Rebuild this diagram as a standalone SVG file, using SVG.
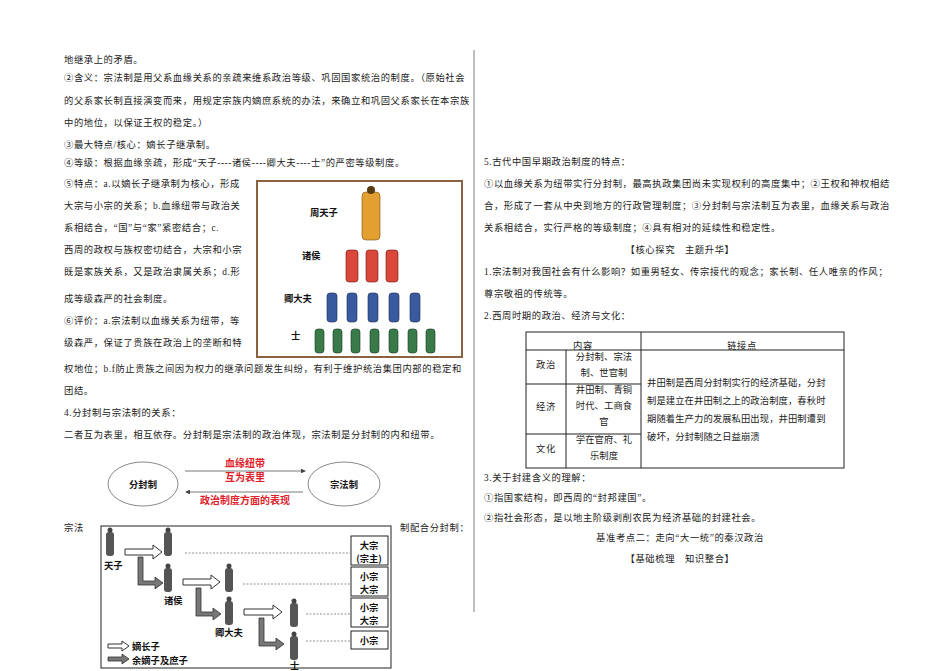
<svg xmlns="http://www.w3.org/2000/svg" width="950" height="671" viewBox="0 0 950 671">
<style>
text{font-family:"Liberation Serif","Noto Sans CJK SC",serif;font-size:9.3px;fill:#222;letter-spacing:0.6px}
.b{font-family:"Noto Sans CJK SC",sans-serif;font-weight:bold;fill:#111;letter-spacing:0}
.r{fill:#e0202a;font-family:"Noto Sans CJK SC",sans-serif;font-weight:bold;font-size:10px;letter-spacing:0}
.t{letter-spacing:0.1px}
.dot{stroke:#777;stroke-width:0.8;stroke-dasharray:2 1.5}
.wa{fill:#fff;stroke:#333;stroke-width:1}
.ga{fill:#777;stroke:#333;stroke-width:0.8}
.bx{fill:#fff;stroke:#222;stroke-width:1}
</style>
<defs>
<marker id="ah" markerWidth="6" markerHeight="6" refX="5" refY="3" orient="auto"><path d="M0,0 L6,3 L0,6 z" fill="#444"/></marker>
<g id="fig"><rect x="-4" y="0" width="8" height="24" rx="3" fill="#555"/><circle cx="0" cy="-2" r="2.5" fill="#444"/></g>
</defs>
<rect width="950" height="671" fill="#fff"/>
<line x1="474" y1="50" x2="474" y2="612" stroke="#aaa" stroke-width="1.5"/>
<g id="left-text">
<text x="64" y="63">地继承上的矛盾。</text>
<text x="64" y="81">②含义：宗法制是用父系血缘关系的亲疏来维系政治等级、巩固国家统治的制度。（原始社会</text>
<text x="64" y="104">的父系家长制直接演变而来，用规定宗族内嫡庶系统的办法，来确立和巩固父系家长在本宗族</text>
<text x="64" y="126">中的地位，以保证王权的稳定。）</text>
<text x="64" y="148">③最大特点/核心：嫡长子继承制。</text>
<text x="64" y="166">④等级：根据血缘亲疏，形成“天子----诸侯----卿大夫----士”的严密等级制度。</text>
<text x="64" y="187">⑤特点：a.以嫡长子继承制为核心，形成</text>
<text x="64" y="209">大宗与小宗的关系；b.血缘纽带与政治关</text>
<text x="64" y="231">系相结合，“国”与“家”紧密结合；c.</text>
<text x="64" y="253">西周的政权与族权密切结合，大宗和小宗</text>
<text x="64" y="275">既是家族关系，又是政治隶属关系；d.形</text>
<text x="64" y="302">成等级森严的社会制度。</text>
<text x="64" y="324">⑥评价：a.宗法制以血缘关系为纽带，等</text>
<text x="64" y="346">级森严，保证了贵族在政治上的垄断和特</text>
<text x="64" y="372">权地位；b.f防止贵族之间因为权力的继承问题发生纠纷，有利于维护统治集团内部的稳定和</text>
<text x="64" y="394">团结。</text>
<text x="64" y="416">4.分封制与宗法制的关系：</text>
<text x="64" y="438">二者互为表里，相互依存。分封制是宗法制的政治体现，宗法制是分封制的内和纽带。</text>
<text x="64" y="531">宗法</text>
<text x="400" y="531">制配合分封制：</text>
</g>
<g id="pyramid">
<rect x="257" y="181" width="205" height="176" fill="#fff" stroke="#8a6240" stroke-width="2"/>
<text class="b" x="310" y="216" font-size="11">周天子</text>
<text class="b" x="302" y="259" font-size="11">诸侯</text>
<text class="b" x="284" y="302" font-size="11">卿大夫</text>
<text class="b" x="291" y="339" font-size="11">士</text>
<rect x="362" y="192" width="18" height="48" rx="4" fill="#e3a030" stroke="#7a5010" stroke-width="0.6"/><circle cx="371" cy="190" r="4" fill="#5a3a10"/>
<g fill="#d9483a" stroke="#6a1a10" stroke-width="0.6">
<rect x="346" y="250" width="12" height="32" rx="3"/><rect x="366" y="250" width="12" height="32" rx="3"/><rect x="386" y="250" width="12" height="32" rx="3"/></g>
<g fill="#3a5aa0" stroke="#1a2a50" stroke-width="0.6">
<rect x="327" y="293" width="10" height="29" rx="3"/><rect x="347" y="293" width="10" height="29" rx="3"/><rect x="368" y="293" width="10" height="29" rx="3"/><rect x="389" y="293" width="10" height="29" rx="3"/><rect x="410" y="293" width="10" height="29" rx="3"/></g>
<g fill="#3a7a48" stroke="#1a3a20" stroke-width="0.6">
<rect x="315" y="329" width="9" height="24" rx="3"/><rect x="333" y="329" width="9" height="24" rx="3"/><rect x="351" y="329" width="9" height="24" rx="3"/><rect x="370" y="329" width="9" height="24" rx="3"/><rect x="389" y="329" width="9" height="24" rx="3"/><rect x="408" y="329" width="9" height="24" rx="3"/><rect x="426" y="329" width="9" height="24" rx="3"/></g>
</g>
<g id="relation">
<ellipse cx="143" cy="484" rx="35" ry="22" fill="#fff" stroke="#888"/>
<ellipse cx="344" cy="484" rx="36" ry="22" fill="#fff" stroke="#888"/>
<text class="b" x="143" y="488" text-anchor="middle" font-size="11.5">分封制</text>
<text class="b" x="344" y="488" text-anchor="middle" font-size="11.5">宗法制</text>
<line x1="185" y1="471" x2="305" y2="471" stroke="#555" stroke-width="0.8" marker-end="url(#ah)"/>
<line x1="303" y1="492" x2="186" y2="492" stroke="#555" stroke-width="0.8" marker-end="url(#ah)"/>
<text class="r" x="245" y="467" text-anchor="middle">血缘纽带</text>
<text class="r" x="245" y="481" text-anchor="middle">互为表里</text>
<text class="r" x="245" y="504" text-anchor="middle">政治制度方面的表现</text>
</g>
<g id="lineage">
<rect x="101" y="526" width="290" height="142" fill="#fff" stroke="#222" stroke-width="1"/>
<use href="#fig" x="110" y="532"/><use href="#fig" x="168" y="532"/>
<use href="#fig" x="168" y="568"/><use href="#fig" x="229" y="568"/>
<use href="#fig" x="229" y="601"/><use href="#fig" x="294" y="603"/>
<use href="#fig" x="294" y="636"/>
<text class="b" x="104" y="569" font-size="11">天子</text>
<text class="b" x="164" y="604" font-size="11">诸侯</text>
<text class="b" x="215" y="636" font-size="11">卿大夫</text>
<text class="b" x="290" y="669" font-size="11">士</text>
<path class="wa" d="M125,549 h28 v-4 l9,7 l-9,7 v-4 h-28 z"/>
<path class="wa" d="M183,579 h28 v-4 l9,7 l-9,7 v-4 h-28 z"/>
<path class="wa" d="M244,609 h29 v-4 l9,7 l-9,7 v-4 h-29 z"/>
<path class="ga" d="M138,557 h5 v24 h12 v-4 l8,6 l-8,6 v-4 h-17 z"/>
<path class="ga" d="M196,588 h5 v24 h12 v-4 l8,6 l-8,6 v-4 h-17 z"/>
<path class="ga" d="M259,618 h5 v24 h12 v-4 l8,6 l-8,6 v-4 h-17 z"/>
<line class="dot" x1="185" y1="553" x2="350" y2="553"/>
<line class="dot" x1="243" y1="584" x2="350" y2="584"/>
<line class="dot" x1="306" y1="614" x2="350" y2="614"/>
<line class="dot" x1="306" y1="641" x2="350" y2="641"/>
<rect class="bx" x="351" y="536" width="37" height="29"/>
<rect class="bx" x="351" y="567" width="37" height="29"/>
<rect class="bx" x="351" y="598" width="37" height="29"/>
<rect class="bx" x="351" y="631" width="37" height="18"/>
<g text-anchor="middle">
<text x="369" y="549" class="b" font-size="11">大宗</text><text x="369" y="562" class="b" font-size="11">(宗主)</text>
<text x="369" y="580" class="b" font-size="11">小宗</text><text x="369" y="593" class="b" font-size="11">大宗</text>
<text x="369" y="611" class="b" font-size="11">小宗</text><text x="369" y="624" class="b" font-size="11">大宗</text>
<text x="369" y="644" class="b" font-size="11">小宗</text>
</g>
<path class="wa" d="M108,644 h14 v-3 l7,5 l-7,5 v-3 h-14 z"/>
<path class="ga" d="M108,657 h14 v-3 l7,5 l-7,5 v-3 h-14 z"/>
<text class="b" x="132" y="650" font-size="11">嫡长子</text>
<text class="b" x="132" y="664" font-size="11">余嫡子及庶子</text>
</g>
<g id="right-text">
<text x="484" y="165">5.古代中国早期政治制度的特点：</text>
<text x="484" y="187">①以血缘关系为纽带实行分封制，最高执政集团尚未实现权利的高度集中；②王权和神权相结</text>
<text x="484" y="209">合，形成了一套从中央到地方的行政管理制度；③分封制与宗法制互为表里，血缘关系与政治</text>
<text x="484" y="231">关系相结合，实行严格的等级制度；④具有相对的延续性和稳定性。</text>
<text x="680" y="253" text-anchor="middle">【核心探究　主题升华】</text>
<text x="484" y="275">1.宗法制对我国社会有什么影响？如重男轻女、传宗接代的观念；家长制、任人唯亲的作风；</text>
<text x="484" y="297">尊宗敬祖的传统等。</text>
<text x="484" y="319">2.西周时期的政治、经济与文化：</text>
</g>
<g id="table">
<rect x="526" y="332" width="318" height="136" fill="none" stroke="#222" stroke-width="1"/>
<line x1="526" y1="350" x2="844" y2="350" stroke="#222"/>
<line x1="641" y1="332" x2="641" y2="468" stroke="#222"/>
<line x1="566" y1="350" x2="566" y2="468" stroke="#222"/>
<line x1="526" y1="384" x2="641" y2="384" stroke="#222"/>
<line x1="526" y1="434" x2="641" y2="434" stroke="#222"/>
<text x="583" y="349" text-anchor="middle">内容</text>
<text x="742" y="349" text-anchor="middle">链接点</text>
<text x="546" y="368" text-anchor="middle">政治</text>
<text x="546" y="410" text-anchor="middle">经济</text>
<text x="546" y="452" text-anchor="middle">文化</text>
<g text-anchor="middle">
<text x="604" y="360" class="t">分封制、宗法</text><text x="604" y="376" class="t">制、世官制</text>
<text x="604" y="393" class="t">井田制、青铜</text><text x="604" y="409" class="t">时代、工商食</text><text x="604" y="425" class="t">官</text>
<text x="604" y="443" class="t">学在官府、礼</text><text x="604" y="459" class="t">乐制度</text>
</g>
<text x="647" y="386" class="t">井田制是西周分封制实行的经济基础，分封</text>
<text x="647" y="404" class="t">制是建立在井田制之上的政治制度，春秋时</text>
<text x="647" y="422" class="t">期随着生产力的发展私田出现，井田制遭到</text>
<text x="647" y="440" class="t">破坏，分封制随之日益崩溃</text>
</g>
<g id="right-bottom">
<text x="484" y="481">3.关于封建含义的理解：</text>
<text x="484" y="501">①指国家结构，即西周的“封邦建国”。</text>
<text x="484" y="521">②指社会形态，是以地主阶级剥削农民为经济基础的封建社会。</text>
<text x="680" y="541" text-anchor="middle">基准考点二：走向“大一统”的秦汉政治</text>
<text x="680" y="562" text-anchor="middle">【基础梳理　知识整合】</text>
</g>
</svg>
